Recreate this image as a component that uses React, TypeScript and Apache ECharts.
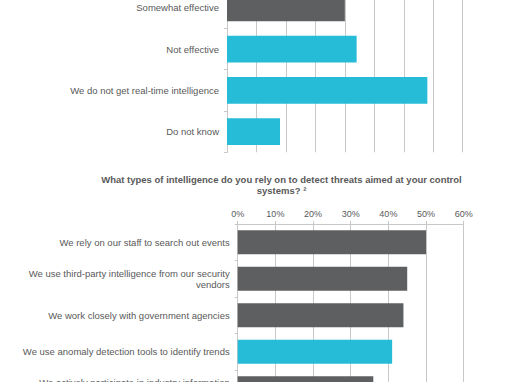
import React, { useEffect, useRef } from "react";
import * as echarts from "echarts";

const effectCategories = [
  "Somewhat effective",
  "Not effective",
  "We do not get real-time intelligence",
  "Do not know",
];
const effectValues = [20, 22, 34, 9];
const effectHighlighted = [false, true, true, true];

const intelTitle = [
  "What types of intelligence do you rely on to detect threats aimed at your control",
  "systems? \u00B2",
];
const intelCategories = [
  "We rely on our staff to search out events",
  "We use third-party intelligence from our security\nvendors",
  "We work closely with government agencies",
  "We use anomaly detection tools to identify trends",
  "We actively participate in industry information\nsharing",
];
const intelValues = [50, 45, 44, 41, 36];
const intelHighlighted = [false, false, false, true, false];
const intelTicks = [0, 60, 10]; // min, max, interval

const DARK = "#5e5f61";
const CYAN = "#26bbd7";
const TEXT = "#595959";
const GRID = "#c8c8c8";
const FONT = "'Liberation Sans', Arial, sans-serif";
const OFF = 20; // inner canvas shifted up so clipped grids keep their size

export default function App() {
  const ref = useRef<HTMLDivElement>(null);
  useEffect(() => {
    if (!ref.current) return;
    const chart = echarts.init(ref.current, null, { renderer: "svg" });
    const option: any = {
      animation: false,
      textStyle: { fontFamily: FONT },
      graphic: intelTitle.map((t, i) => ({
        type: "text",
        x: 281.5,
        y: 179 + OFF + i * 11.5,
        style: {
          text: t,
          fill: TEXT,
          font: `bold 9.5px ${FONT}`,
          align: "center",
          verticalAlign: "middle",
        },
      })),
      grid: [
        { left: 227, right: 47.3, top: -12.9 + OFF, height: 165.2, containLabel: false },
        { left: 237.7, right: 46.3, top: 224 + OFF, height: 182.5, containLabel: false },
      ],
      xAxis: [
        {
          type: "value",
          gridIndex: 0,
          min: 0,
          max: 40,
          interval: 5,
          position: "top",
          axisLabel: { show: false },
          axisLine: { show: false },
          axisTick: { show: false },
          splitLine: { show: true, lineStyle: { color: GRID, width: 1 } },
        },
        {
          type: "value",
          gridIndex: 1,
          min: intelTicks[0],
          max: intelTicks[1],
          interval: intelTicks[2],
          position: "top",
          axisLabel: {
            formatter: "{value}%",
            color: TEXT,
            fontSize: 9,
            fontFamily: FONT,
            margin: 6,
          },
          axisLine: { show: true, lineStyle: { color: GRID, width: 1 } },
          axisTick: { show: true, length: 3, lineStyle: { color: GRID } },
          splitLine: { show: true, lineStyle: { color: GRID, width: 1 } },
        },
      ],
      yAxis: [
        {
          type: "category",
          gridIndex: 0,
          inverse: true,
          data: effectCategories,
          axisLine: { show: true, lineStyle: { color: GRID } },
          axisTick: { show: true, length: 3, lineStyle: { color: GRID } },
          axisLabel: { color: TEXT, fontSize: 9.5, fontFamily: FONT, margin: 8, lineHeight: 11 },
        },
        {
          type: "category",
          gridIndex: 1,
          inverse: true,
          data: intelCategories,
          axisLine: { show: true, lineStyle: { color: GRID } },
          axisTick: { show: true, length: 3, lineStyle: { color: GRID } },
          axisLabel: { color: TEXT, fontSize: 9.5, fontFamily: FONT, margin: 8, lineHeight: 11, align: "right" },
        },
      ],
      series: [
        {
          type: "bar",
          xAxisIndex: 0,
          yAxisIndex: 0,
          barCategoryGap: "35%",
          data: effectValues.map((v, i) => ({
            value: v,
            itemStyle: { color: effectHighlighted[i] ? CYAN : DARK },
          })),
        },
        {
          type: "bar",
          xAxisIndex: 1,
          yAxisIndex: 1,
          barCategoryGap: "34%",
          data: intelValues.map((v, i) => ({
            value: v,
            itemStyle: { color: intelHighlighted[i] ? CYAN : DARK },
          })),
        },
      ],
    };
    chart.setOption(option);
    return () => chart.dispose();
  }, []);
  return (
    <div
      style={{ position: "absolute", left: 0, top: 0, width: 510, height: 382, overflow: "hidden", background: "#fff" }}
    >
      <div
        ref={ref}
        style={{ position: "absolute", left: 0, top: -OFF, width: 510, height: 430 }}
      />
    </div>
  );
}
